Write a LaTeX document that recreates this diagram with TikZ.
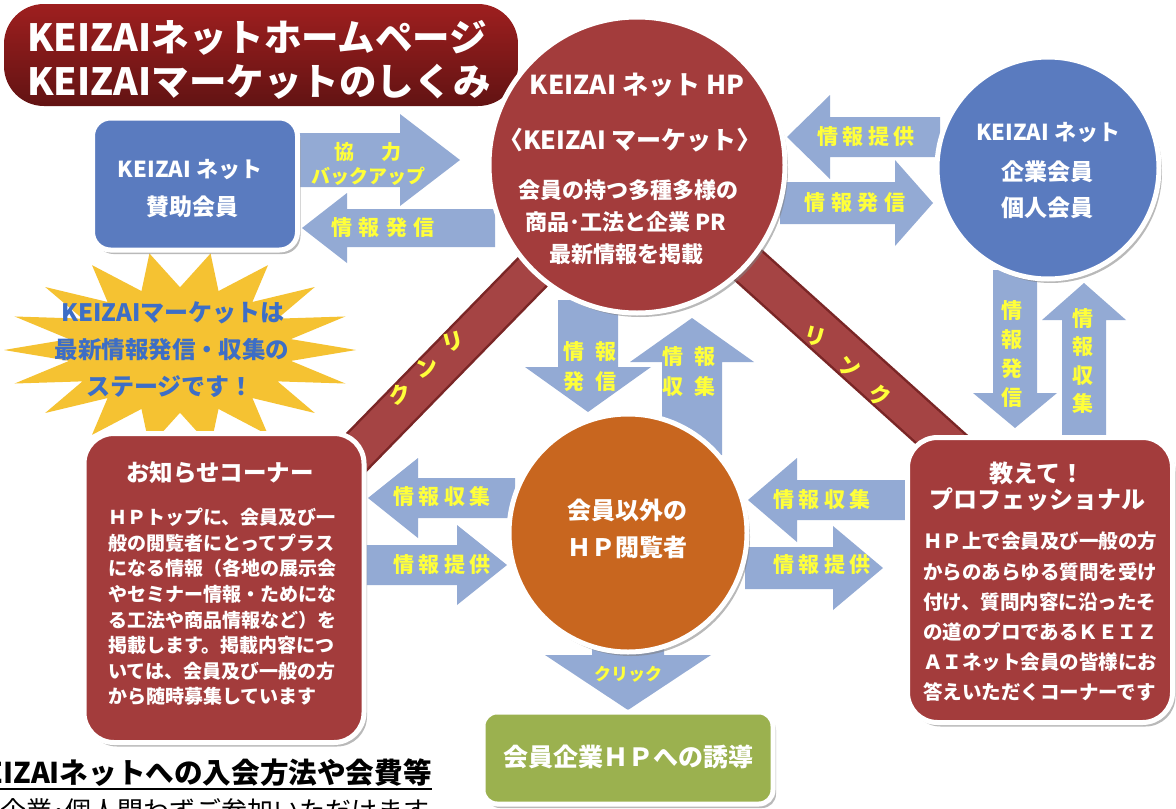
\documentclass[tikz,border=0pt]{standalone}
\usepackage{fontspec}
\setmainfont{Noto Sans CJK JP}
\usetikzlibrary{shadows}
\pgfdeclarelayer{bg}
\pgfsetlayers{bg,main}
\definecolor{brick}{HTML}{A33C3C}
\definecolor{brickdark}{HTML}{7A2626}
\definecolor{barred}{HTML}{A54444}
\definecolor{bannerA}{HTML}{9E1F1F}
\definecolor{bannerB}{HTML}{621313}
\definecolor{bluec}{HTML}{5A7BBF}
\definecolor{orangec}{HTML}{C8661F}
\definecolor{greenc}{HTML}{9BB14F}
\definecolor{arrowc}{HTML}{93AAD4}
\definecolor{yelt}{HTML}{FFFF3A}
\definecolor{stary}{HTML}{F5C232}
\definecolor{starblue}{HTML}{3D6EC6}
\newcommand\bfs[1]{\bfseries\fontsize{#1}{#1}\selectfont}
\newcommand\bfsl[2]{\bfseries\fontsize{#1}{#2}\selectfont}
\newcommand\rfs[1]{\fontsize{#1}{#1}\selectfont}
\newlength\spamt
\def\sptext#1#2{\setlength\spamt{#1}\sptextA#2\relax\kern-\spamt}
\def\sptextA#1{\ifx#1\relax\else#1\kern\spamt\expandafter\sptextA\fi}
\newcommand\harr[6]{\fill[arrowc] ({#1},{#4-#5}) -- ({#2},{#4-#5}) -- ({#2},{#4-#6}) -- ({#3},{#4}) -- ({#2},{#4+#6}) -- ({#2},{#4+#5}) -- ({#1},{#4+#5}) -- cycle;}
\newcommand\varr[6]{\fill[arrowc] ({#4-#5},{#1}) -- ({#4-#5},{#2}) -- ({#4-#6},{#2}) -- ({#4},{#3}) -- ({#4+#6},{#2}) -- ({#4+#5},{#2}) -- ({#4+#5},{#1}) -- cycle;}
\begin{document}
\begin{tikzpicture}[x=1pt,y=-1pt,
  shp/.style={draw=white,line width=5pt,drop shadow={shadow xshift=3pt,shadow yshift=-4pt,opacity=.55}},
  wt/.style={text=white,inner sep=0pt},
  lbl/.style={text=yelt,inner sep=0pt},
  lnk/.style={text=yelt,inner sep=0pt,font=\bfs{22}},
  bt/.style={text=starblue,inner sep=0pt}]
\useasboundingbox (0,0) rectangle (1176,809);
\clip (0,0) rectangle (1176,809);

% main shapes
\node[shp,circle,fill=brick,minimum size=296pt] (hp) at (637,165) {};
\node[shp,circle,fill=bluec,minimum size=222pt] (kaiin) at (1048,168) {};
\node[shp,circle,fill=orangec,minimum size=238pt] (etsu) at (628,533) {};
\node[shp,fill=bluec,rounded corners=18pt,minimum width=205pt,minimum height=132pt] (sanjo) at (195,184) {};
\node[shp,fill=brick,rounded corners=30pt,minimum width=280pt,minimum height=309pt] (osh) at (224,588) {};
\node[shp,fill=brick,rounded corners=30pt,minimum width=265pt,minimum height=285pt] (prof) at (1040,580) {};
\node[shp,fill=greenc,rounded corners=14pt,minimum width=290pt,minimum height=92pt] (yudo) at (628,758) {};
\coordinate (rl) at (1000,492);

\begin{pgfonlayer}{bg}
  \fill[white] (0,0) rectangle (1176,809);
  % title banner
  \shade[top color=bannerA,bottom color=bannerB,rounded corners=40pt] (4,4) rectangle (518,106);
  % link bars
  \draw[line width=42pt,brickdark] (hp.center) -- (osh.center);
  \draw[line width=37pt,barred] (hp.center) -- (osh.center);
  \draw[line width=42pt,brickdark] (hp.center) -- (rl);
  \draw[line width=37pt,barred] (hp.center) -- (rl);
  % block arrows
  \harr{298}{400}{460}{160}{27}{46}
  \harr{495}{347}{302}{228}{19}{35}
  \harr{940}{830}{787}{137}{20}{42}
  \harr{780}{895}{933}{203}{21}{43}
  \varr{300}{367}{412}{588}{30}{63}
  \varr{455}{362}{318}{692}{30}{62}
  \harr{515}{418}{368}{498}{20}{40}
  \harr{365}{457}{507}{565}{20}{40}
  \harr{905}{797}{748}{500}{20}{42}
  \harr{745}{833}{883}{568}{21}{42}
  \varr{270}{393}{428}{1015}{22}{42}
  \varr{440}{320}{283}{1084}{22}{42}
  \varr{630}{655}{710}{628}{36}{83}
  % starburst
  \fill[stary] (356,350) \foreach \i [evaluate=\i as \r using {ifthenelse(mod(\i,2)==0,1,0.64)}] in {1,...,35} { -- ({180+176*\r*cos(\i*10)},{350+98*\r*sin(\i*10)}) } -- cycle;
\end{pgfonlayer}

% title
\node[wt,anchor=west,font=\bfs{37.5}] (t1) at (27,38) {KEIZAIネットホームページ};
\node[wt,anchor=west,font=\bfs{37.5}] (t2) at (27,82) {KEIZAIマーケットのしくみ};

% top circle text
\node[wt,font=\bfs{26}] (hp1) at (637,85) {KEIZAI ネット HP};
\node[wt,font=\bfs{25}] (hp2) at (630,140) {〈KEIZAI マーケット〉};
\node[wt,font=\bfs{22}] (hp3) at (628,190) {会員の持つ多種多様の};
\node[wt,font=\bfs{22}] (hp4) at (626,222) {商品･工法と企業 PR};
\node[wt,font=\bfs{22}] (hp5) at (626,254) {最新情報を掲載};

% right circle text
\node[wt,font=\bfs{22}] (k1) at (1048,133) {KEIZAI ネット};
\node[wt,font=\bfs{23}] (k2) at (1047,172) {企業会員};
\node[wt,font=\bfs{23}] (k3) at (1047,208) {個人会員};

% left box text
\node[wt,font=\bfs{22}] (s1) at (190,170) {KEIZAI ネット};
\node[wt,font=\bfs{23}] (s2) at (192,207) {賛助会員};

% orange circle text
\node[wt,font=\bfs{24}] (e1) at (627,510) {会員以外の};
\node[wt,font=\bfs{24}] (e2) at (627,547) {ＨＰ閲覧者};

% green box
\node[wt,font=\bfs{25}] (y1) at (628,757) {会員企業ＨＰへの誘導};

% oshirase box
\node[wt,font=\bfs{23.5}] (o1) at (220,473) {お知らせコーナー};
\node[wt,font=\bfsl{19}{25.6},align=left] (o2) at (222,607) {ＨＰトップに、会員及び一\\般の閲覧者にとってプラス\\になる情報（各地の展示会\\やセミナー情報・ためにな\\る工法や商品情報など）を\\掲載します。掲載内容につ\\いては、会員及び一般の方\\から随時募集しています};

% professional box
\node[wt,font=\bfs{24}] (p1) at (1037,473) {教えて！};
\node[wt,font=\bfs{24}] (p2) at (1037,499) {プロフェッショナル};
\node[wt,font=\bfsl{19.5}{30.2},align=left] (p3) at (1040,617) {ＨＰ上で会員及び一般の方\\からのあらゆる質問を受け\\付け、質問内容に沿ったそ\\の道のプロであるＫＥＩＺ\\ＡＩネット会員の皆様にお\\答えいただくコーナーです};

% starburst text
\node[bt,font=\bfs{24}] (b1) at (173,313) {KEIZAIマーケットは};
\node[bt,font=\bfs{23.5}] (b2) at (172,350) {最新情報発信・収集の};
\node[bt,font=\bfs{24}] (b3) at (170,387) {ステージです！};

% arrow labels
\node[lbl,font=\bfs{20}] (a1a) at (368,152) {協\kern27pt力};
\node[lbl,font=\bfs{19}] (a1b) at (368,176) {バックアップ};
\node[lbl,font=\bfs{21}] (a2) at (383,228) {\sptext{6.5pt}{情報発信}};
\node[lbl,font=\bfs{21}] (a3) at (866,137) {\sptext{4.5pt}{情報提供}};
\node[lbl,font=\bfs{21}] (a4) at (855,203) {\sptext{5.5pt}{情報発信}};
\node[lbl,font=\bfsl{21}{30},align=center] (a5) at (590,367) {\sptext{11pt}{情報}\\\sptext{11pt}{発信}};
\node[lbl,font=\bfsl{21}{30},align=center] (a6) at (689,372) {\sptext{11pt}{情報}\\\sptext{11pt}{収集}};
\node[lbl,font=\bfs{21}] (a7) at (442,497) {\sptext{4.3pt}{情報収集}};
\node[lbl,font=\bfs{21}] (a8) at (442,565) {\sptext{4.3pt}{情報提供}};
\node[lbl,font=\bfs{21}] (a9) at (822,500) {\sptext{4.3pt}{情報収集}};
\node[lbl,font=\bfs{21}] (a10) at (822,565) {\sptext{4.3pt}{情報提供}};
\node[lbl,font=\bfsl{21}{29},align=center] (a11) at (1012,354) {情\\報\\発\\信};
\node[lbl,font=\bfsl{21}{28.3},align=center] (a12) at (1083,361) {情\\報\\収\\集};
\node[lbl,font=\bfs{17}] (a13) at (628,674) {クリック};

% link labels
\node[lnk,rotate=15] (l1) at (453,342) {リ};
\node[lnk,rotate=15] (l2) at (427,368) {ン};
\node[lnk,rotate=15] (l3) at (400,395) {ク};
\node[lnk,rotate=-15] (r1) at (815,337) {リ};
\node[lnk,rotate=-15] (r2) at (850,367) {ン};
\node[lnk,rotate=-15] (r3) at (880,395) {ク};

% bottom text
\node[inner sep=0pt,anchor=east,font=\bfs{28.6}] (bt1) at (432,773) {KEIZAIネットへの入会方法や会費等};
\draw[line width=1.8pt] ([yshift=-2pt]bt1.south west) -- ([yshift=-2pt]bt1.south east);
\node[inner sep=0pt,anchor=east,font=\rfs{26}] (bt2) at (430,811) {企業･個人問わずご参加いただけます};
\end{tikzpicture}
\end{document}
